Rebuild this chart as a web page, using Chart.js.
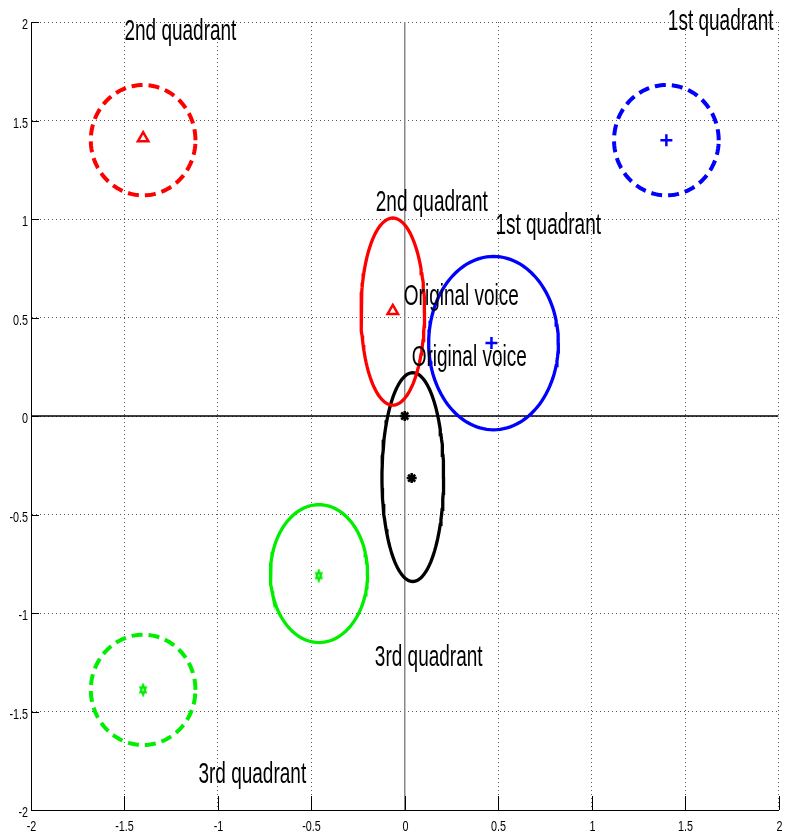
<!DOCTYPE html>
<html>
<head>
<meta charset="utf-8">
<script src="https://cdn.jsdelivr.net/npm/chart.js@4"></script>
<style>
  body { margin: 0; background: #fff; }
  canvas { display: block; }
</style>
</head>
<body>
<canvas id="chart" width="787" height="838"></canvas>
<script>
// axis ticks
const tickValues = [-2, -1.5, -1, -0.5, 0, 0.5, 1, 1.5, 2];
const tickLabels = ['-2', '-1.5', '-1', '-0.5', '0', '0.5', '1', '1.5', '2'];

// ellipses (center, radii)
const ellipseCx = [-1.4, 1.4, -1.4, -0.064, 0.475, 0.043, -0.459];
const ellipseCy = [1.4, 1.4, -1.39, 0.53, 0.37, -0.31, -0.80];
const ellipseRx = [0.28, 0.28, 0.28, 0.17, 0.347, 0.165, 0.26];
const ellipseRy = [0.28, 0.28, 0.28, 0.475, 0.44, 0.53, 0.35];
const ellipseColor = ['#ff0000', '#0000ff', '#00ee00', '#ff0000', '#0000ff', '#000000', '#00ee00'];
const ellipseDashed = [true, true, true, false, false, false, false];

// centre markers
const markerX = [-1.4, 1.4, -1.4, -0.064, 0.464, 0.037, 0, -0.46];
const markerY = [1.41, 1.4, -1.39, 0.533, 0.371, -0.315, 0, -0.81];
const markerKind = ['triangle', 'cross', 'hexagram', 'triangle', 'cross', 'star', 'star', 'hexagram'];
const markerColor = ['#ff0000', '#0000ff', '#00ee00', '#ff0000', '#0000ff', '#000000', '#000000', '#00ee00'];

// text annotations
const labelTexts = ['2nd quadrant', '1st quadrant', '2nd quadrant', '1st quadrant',
                    'Original voice', 'Original voice', '3rd quadrant', '3rd quadrant'];
const labelX = [-1.5, 1.408, -0.155, 0.485, -0.005, 0.037, -0.16, -1.104];
const labelY = [1.949, 2.0, 1.081, 0.962, 0.604, 0.294, -1.228, -1.822];

function hexagram(color) {
    const c = document.createElement('canvas');
    c.width = 12; c.height = 14;
    const g = c.getContext('2d');
    g.strokeStyle = color;
    g.lineWidth = 2;
    const cx = 6, cy = 7, rx = 3.2, ry = 5;
    for (let k = 0; k < 2; k++) {
        g.beginPath();
        for (let i = 0; i < 3; i++) {
            const a = (k * 60 + i * 120 - 90) * Math.PI / 180;
            const px = cx + rx * Math.cos(a), py = cy + ry * Math.sin(a);
            if (i === 0) g.moveTo(px, py); else g.lineTo(px, py);
        }
        g.closePath();
        g.stroke();
    }
    return c;
}

function ellipsePoints(i) {
    const pts = [];
    for (let k = 0; k <= 120; k++) {
        const t = k / 120 * 2 * Math.PI;
        pts.push({x: ellipseCx[i] + ellipseRx[i] * Math.cos(t), y: ellipseCy[i] + ellipseRy[i] * Math.sin(t)});
    }
    return pts;
}

const datasets = [];

// zero lines
datasets.push({
    data: [{x: -2, y: 0}, {x: 2, y: 0}],
    showLine: true, borderColor: '#000', borderWidth: 1.4, pointRadius: 0, order: 20
});
datasets.push({
    data: [{x: 0, y: -2}, {x: 0, y: 2}],
    showLine: true, borderColor: '#888', borderWidth: 1.5, pointRadius: 0, order: 20
});

ellipseCx.forEach((_, i) => {
    datasets.push({
        data: ellipsePoints(i),
        showLine: true,
        borderColor: ellipseColor[i],
        borderWidth: ellipseDashed[i] ? 4 : 3.3,
        borderDash: ellipseDashed[i] ? [11, 6] : [],
        pointRadius: 0,
        tension: 0,
        order: 10
    });
});

markerX.forEach((_, i) => {
    const kind = markerKind[i];
    datasets.push({
        data: [{x: markerX[i], y: markerY[i]}],
        pointStyle: kind === 'hexagram' ? hexagram(markerColor[i]) : kind,
        pointRadius: kind === 'triangle' ? 6 : (kind === 'cross' ? 6 : 5),
        pointBorderWidth: 2.5,
        pointBorderColor: markerColor[i],
        pointBackgroundColor: 'rgba(0,0,0,0)',
        order: 1
    });
});

function squeezedText(ctx, text, x, y, size, sx, align) {
    ctx.save();
    ctx.font = size + 'px "Liberation Sans", Arial, sans-serif';
    ctx.textBaseline = 'middle';
    ctx.textAlign = align;
    ctx.fillStyle = '#000';
    ctx.translate(x, y);
    ctx.scale(sx, 1);
    ctx.fillText(text, 0, 0);
    ctx.restore();
}

const annotate = {
    id: 'annotate',
    afterDatasetsDraw(chart) {
        const ctx = chart.ctx;
        const xs = chart.scales.x, ys = chart.scales.y;
        labelTexts.forEach((t, i) => {
            squeezedText(ctx, t, xs.getPixelForValue(labelX[i]), ys.getPixelForValue(labelY[i]), 29, 0.655, 'left');
        });
    },
    afterDraw(chart) {
        const ctx = chart.ctx;
        const xs = chart.scales.x, ys = chart.scales.y;
        const a = chart.chartArea;
        ctx.save();
        ctx.strokeStyle = '#000';
        ctx.lineWidth = 1;
        tickValues.forEach((v, i) => {
            const px = Math.round(xs.getPixelForValue(v)) + 0.5;
            const py = Math.round(ys.getPixelForValue(v)) + 0.5;
            ctx.beginPath();
            ctx.moveTo(px, a.bottom); ctx.lineTo(px, a.bottom - 14);
            ctx.moveTo(a.left, py); ctx.lineTo(a.left + 8, py);
            ctx.stroke();
            squeezedText(ctx, tickLabels[i], px, a.bottom + 17, 15, 0.72, 'center');
            squeezedText(ctx, tickLabels[i], a.left - 3, py + 2, 15, 0.72, 'right');
        });
        ctx.restore();
    }
};

const gridOpts = {color: '#555', lineWidth: 1, drawTicks: false};
const borderOpts = {color: '#000', width: 1, dash: [1, 3]};

new Chart(document.getElementById('chart'), {
    type: 'scatter',
    data: {datasets: datasets},
    options: {
        responsive: false,
        animation: false,
        layout: {padding: {top: 22, right: 4, left: 0, bottom: 0}},
        plugins: {legend: {display: false}, tooltip: {enabled: false}},
        scales: {
            x: {
                type: 'linear', min: -2, max: 2,
                ticks: {display: false, stepSize: 0.5},
                grid: gridOpts, border: borderOpts,
                afterFit(scale) { scale.height = 28; }
            },
            y: {
                type: 'linear', min: -2, max: 2,
                ticks: {display: false, stepSize: 0.5},
                grid: gridOpts, border: borderOpts,
                afterFit(scale) { scale.width = 31; }
            }
        }
    },
    plugins: [annotate]
});
</script>
</body>
</html>
